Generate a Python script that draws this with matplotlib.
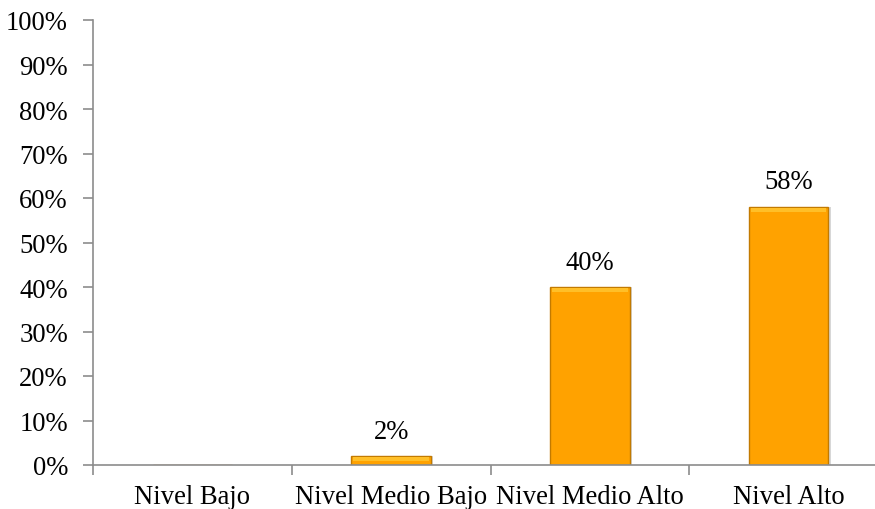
import numpy as np
import matplotlib
matplotlib.use('Agg')
import matplotlib.pyplot as plt
from matplotlib.ticker import PercentFormatter

matplotlib.rcParams['font.family'] = 'Liberation Serif'

categorias = ['Nivel Bajo', 'Nivel Medio Bajo', 'Nivel Medio Alto', 'Nivel Alto']
porcentajes = [0, 2, 40, 58]
yticks = [0, 10, 20, 30, 40, 50, 60, 70, 80, 90, 100]

fig = plt.figure(figsize=(8.75, 5.1), dpi=100)
ax = fig.add_axes([93/875, 44/510, 795/875, 445/510])

x = np.arange(len(categorias))
w = 0.4
fs = 19.2

# sombra, barra y bisel
ax.bar(x + 0.012, porcentajes, width=w, color='#b0b0b0', alpha=0.5, zorder=1)
ax.bar(x, porcentajes, width=w, color='#ffa200', edgecolor='#c27a00', linewidth=1.0, zorder=2)
hl = [min(p, 0.9) for p in porcentajes]
ax.bar(x, hl, width=w * 0.95, bottom=np.array(porcentajes) - np.array(hl) - 0.15,
       color='#ffbf28', linewidth=0, zorder=3)

for xi, p in zip(x, porcentajes):
    if p > 0:
        ax.annotate('{}%'.format(p), (xi, p), xytext=(0, 9), textcoords='offset points',
                    ha='center', va='bottom', fontsize=fs)

ax.set_xlim(-0.5, 3.5)
ax.set_ylim(0, 100)
ax.set_yticks(yticks)
ax.yaxis.set_major_formatter(PercentFormatter(decimals=0))
ax.set_xticks(x)
ax.set_xticklabels(categorias)
ax.set_xticks(np.arange(-0.5, 4.0, 1.0), minor=True)

for s in ['top', 'right']:
    ax.spines[s].set_visible(False)
for s in ['left', 'bottom']:
    ax.spines[s].set_color('#8c8c8c')
    ax.spines[s].set_linewidth(1.2)

ax.tick_params(axis='y', length=7, width=1.2, color='#8c8c8c', pad=11, labelsize=fs)
ax.tick_params(axis='x', which='major', length=0, pad=14, labelsize=fs)
ax.tick_params(axis='x', which='minor', length=7, width=1.2, color='#8c8c8c')

fig.savefig('out.png', dpi=100)
